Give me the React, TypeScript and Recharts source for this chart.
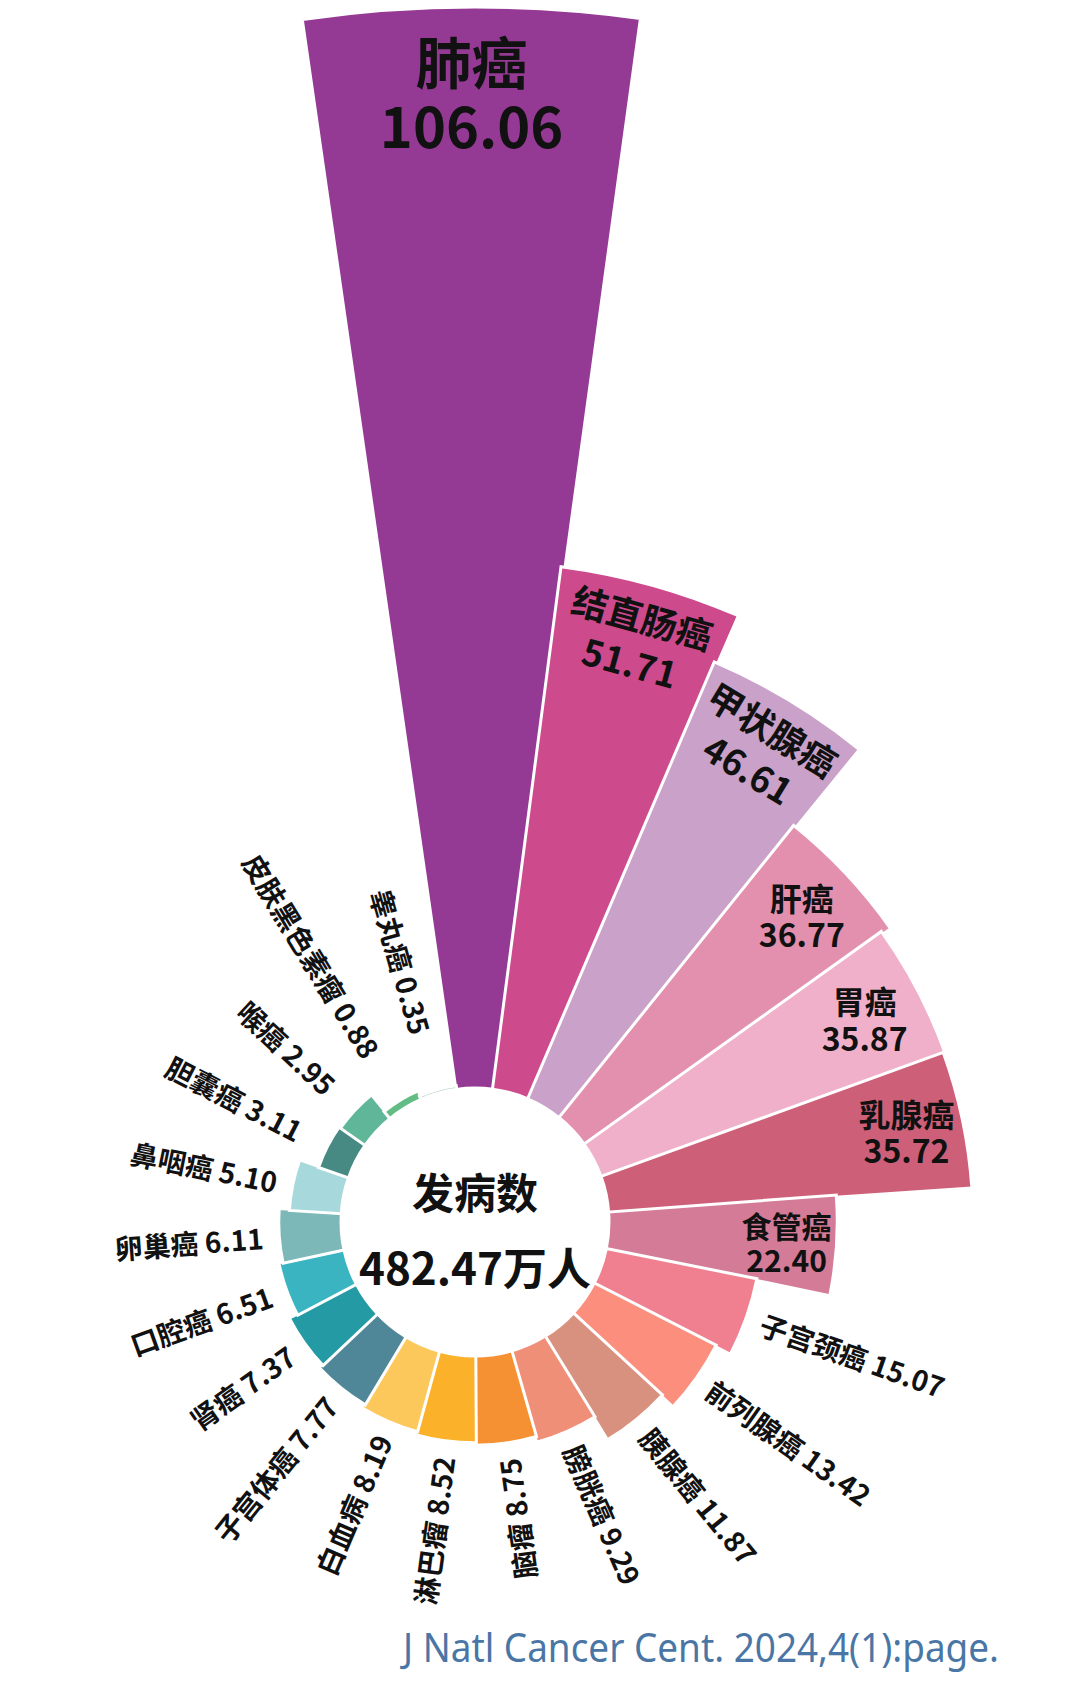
import React from 'react';
import { RadialBarChart, RadialBar, PolarAngleAxis, PolarRadiusAxis, Cell, LabelList } from 'recharts';

// ---- data ----
const categories = [
  '肺癌', '结直肠癌', '甲状腺癌', '肝癌', '胃癌', '乳腺癌', '食管癌', '子宫颈癌',
  '前列腺癌', '胰腺癌', '膀胱癌', '脑瘤', '淋巴瘤', '白血病', '子宫体癌', '肾癌',
  '口腔癌', '卵巢癌', '鼻咽癌', '胆囊癌', '喉癌', '皮肤黑色素瘤', '睾丸癌',
];
const incidence = [
  106.06, 51.71, 46.61, 36.77, 35.87, 35.72, 22.40, 15.07,
  13.42, 11.87, 9.29, 8.75, 8.52, 8.19, 7.77, 7.37,
  6.51, 6.11, 5.10, 3.11, 2.95, 0.88, 0.35,
];
const centerTitle = '发病数';
const centerTotal = '482.47万人';
const citation = 'J Natl Cancer Cent. 2024,4(1):page.';
const radiusDomain = [0, 110];

// ---- styles ----
const colors = [
  '#943a94', '#cd4a8d', '#c9a1c9', '#e290ae', '#f1b0c9', '#cd6078', '#d47b98', '#f08090',
  '#fb8e7d', '#d8917f', '#f08f78', '#f59132', '#fbb22a', '#fcc85c', '#4f8798', '#249aa5',
  '#3bb4c1', '#7bb8b7', '#a7d9dc', '#478a84', '#5fb699', '#62bd84', '#a9c9b6',
];
// label mode per bar: h = horizontal inside, r = rotated inside, o = outside radial
const labelModes = ['h', 'r', 'r', 'h', 'h', 'h', 'h', 'o', 'o', 'o', 'o', 'o', 'o', 'o', 'o', 'o', 'o', 'o', 'o', 'o', 'o', 'o', 'o'];
const labelSizes = [56, 36, 36, 32, 32, 32, 30, 28, 28, 28, 28, 28, 28, 28, 28, 28, 28, 28, 28, 28, 28, 28, 28];

const FONT = '"Noto Sans CJK SC", "Noto Sans", sans-serif';
const TEXT_COLOR = '#111111';

const data = categories.map((name, i) => ({ name, value: incidence[i] }));

const renderLabel = (props: any) => {
  const { viewBox, index } = props;
  if (!viewBox || index == null) return null;
  const { cx, cy, innerRadius, outerRadius, startAngle, endAngle } = viewBox;
  const mid = (startAngle + endAngle) / 2;
  const rad = (mid * Math.PI) / 180;
  const ux = Math.cos(rad);
  const uy = -Math.sin(rad);
  const theta = (((90 - mid) % 360) + 360) % 360; // clockwise from top
  const name = categories[index];
  const valStr = incidence[index].toFixed(2);
  const fs = labelSizes[index];
  const mode = labelModes[index];
  const common = {
    fontFamily: FONT,
    fontWeight: 700,
    fill: TEXT_COLOR,
    fontSize: fs,
  } as any;

  if (mode === 'h') {
    const gap = fs * 1.14;
    const w = Math.max(name.length * fs, valStr.length * 0.58 * fs);
    const H = gap + fs;
    const pad = fs > 40 ? 24 : 3;
    const off = (w / 2) * Math.abs(ux) + (H / 2) * Math.abs(uy) + pad;
    const r = outerRadius - off;
    const x = cx + r * ux;
    const y = cy + r * uy;
    return (
      <text key={`lbl-${index}`} x={x} y={y - gap / 2} textAnchor="middle" dominantBaseline="central" {...common}>
        <tspan x={x} y={y - gap / 2}>{name}</tspan>
        <tspan x={x} y={y + gap / 2}>{valStr}</tspan>
      </text>
    );
  }
  if (mode === 'r') {
    const gap = fs * 1.3;
    const H = gap + fs;
    const r = outerRadius - (H / 2 + 14);
    const x = cx + r * ux;
    const y = cy + r * uy;
    return (
      <g key={`lbl-${index}`} transform={`translate(${x},${y}) rotate(${theta})`}>
        <text x={0} y={-gap / 2} textAnchor="middle" dominantBaseline="central" {...common}>
          <tspan x={0} y={-gap / 2}>{name}</tspan>
          <tspan x={0} y={gap / 2}>{valStr}</tspan>
        </text>
      </g>
    );
  }
  // outside radial label
  const r = Math.max(outerRadius + 16, innerRadius + 62);
  const x = cx + r * ux;
  const y = cy + r * uy;
  const outward = theta < 168;
  const rot = outward ? theta - 90 : theta - 270;
  return (
    <g key={`lbl-${index}`} transform={`translate(${x},${y}) rotate(${rot})`}>
      <text x={0} y={0} textAnchor={outward ? 'start' : 'end'} dominantBaseline="central" {...common}>
        {`${name} ${valStr}`}
      </text>
    </g>
  );
};

const W = 1080;
const H = 1685;
const CX = 475;
const CY = 1222;
const INNER = 134;
const OUTER = 1255;
const HALF_SLOT = 180 / categories.length;

export default function App() {
  return (
    <div style={{ position: 'absolute', left: 0, top: 0, width: W, height: H, background: '#ffffff', overflow: 'hidden' }}>
      <RadialBarChart
        width={W}
        height={H}
        data={data}
        layout="centric"
        cx={CX}
        cy={CY}
        innerRadius={INNER}
        outerRadius={OUTER}
        startAngle={90 - HALF_SLOT}
        endAngle={90 - HALF_SLOT - 360}
        barCategoryGap={0}
        margin={{ top: 0, right: 0, bottom: 0, left: 0 }}
      >
        <PolarAngleAxis type="category" dataKey="name" tick={false} axisLine={false} tickLine={false} />
        <PolarRadiusAxis type="number" domain={radiusDomain} tick={false} axisLine={false} tickLine={false} />
        <RadialBar dataKey="value" isAnimationActive={false} stroke="#ffffff" strokeWidth={3}>
          {data.map((d, i) => (
            <Cell key={d.name} fill={colors[i]} />
          ))}
          <LabelList dataKey="value" content={renderLabel} />
        </RadialBar>
      </RadialBarChart>
      <svg width={W} height={H} style={{ position: 'absolute', left: 0, top: 0, pointerEvents: 'none' }}>
        <text x={CX} y={1190} textAnchor="middle" dominantBaseline="central" fontFamily={FONT} fontWeight={700} fontSize={42} fill={TEXT_COLOR}>
          {centerTitle}
        </text>
        <text x={CX} y={1266} textAnchor="middle" dominantBaseline="central" fontFamily={FONT} fontWeight={700} fontSize={44} fill={TEXT_COLOR}>
          {centerTotal}
        </text>
        <text x={403} y={1662} fontFamily='"Noto Sans", sans-serif' fontSize={40} fill="#4a76a6" textLength={596} lengthAdjust="spacingAndGlyphs">
          {citation}
        </text>
      </svg>
    </div>
  );
}
